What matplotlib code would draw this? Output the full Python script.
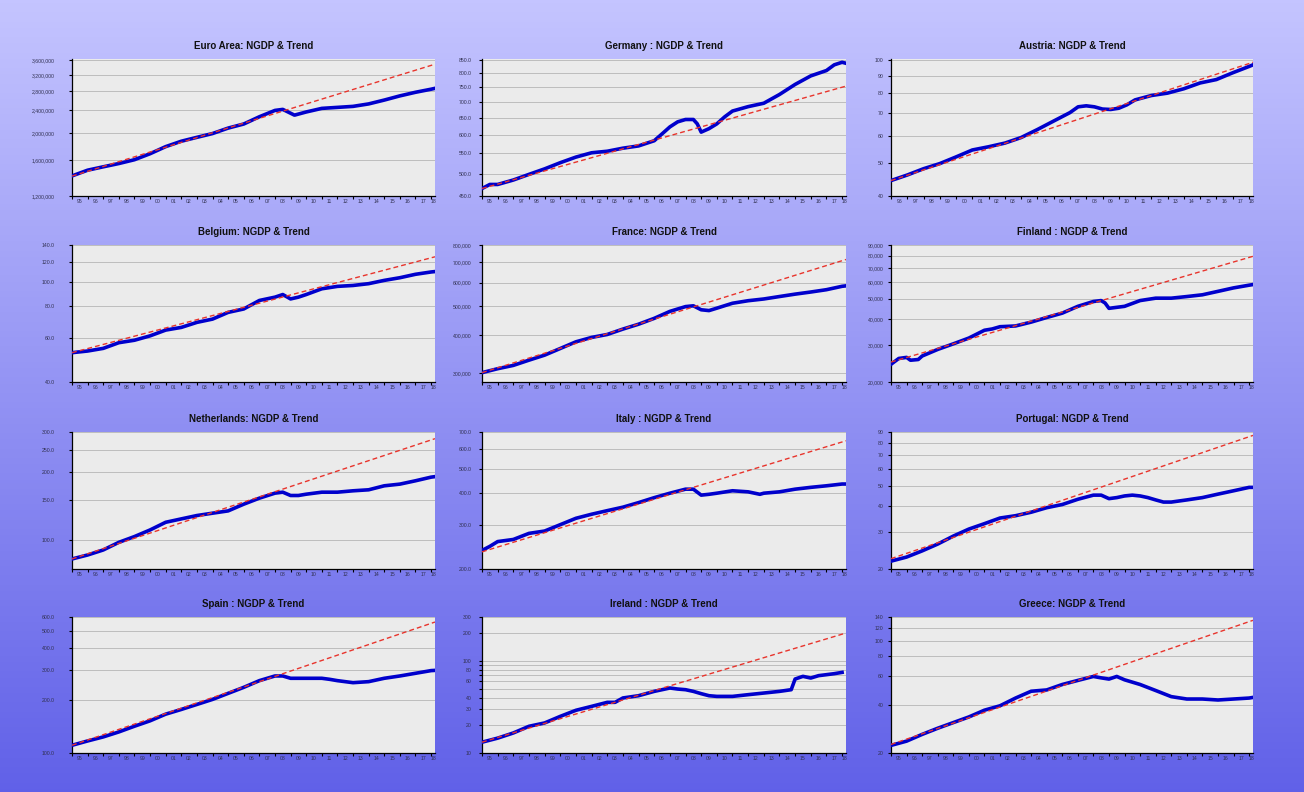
import numpy as np
import matplotlib.pyplot as plt
from matplotlib.ticker import NullLocator

plt.rcParams['font.family'] = ['Liberation Sans', 'DejaVu Sans']

# ---- data (quarterly NGDP, log-linear trend end points) ----
ea_t = [1995, 1996, 1997, 1998, 1999, 2000, 2001, 2002, 2003, 2004, 2005, 2006, 2007,
        2008, 2008.5, 2009.25, 2010, 2011, 2012, 2013, 2014, 2015, 2016, 2017, 2018, 2018.25]
ea_v = [1.412e6, 1.479e6, 1.52e6, 1.561e6, 1.61e6, 1.69e6, 1.79e6, 1.87e6, 1.93e6, 1.99e6,
        2.08e6, 2.15e6, 2.28e6, 2.40e6, 2.42e6, 2.31e6, 2.37e6, 2.44e6, 2.46e6, 2.48e6,
        2.53e6, 2.61e6, 2.70e6, 2.78e6, 2.85e6, 2.87e6]
ea_trend = [1.41e6, 3.49e6]

de_t = [1995, 1995.5, 1996, 1997, 1998, 1999, 2000, 2001, 2002, 2003, 2004, 2005, 2006,
        2006.5, 2007, 2007.5, 2008, 2008.5, 2008.75, 2009, 2009.5, 2010, 2010.5, 2011, 2012,
        2013, 2014, 2015, 2016, 2017, 2017.5, 2018, 2018.25]
de_v = [466, 475, 475, 485, 498, 511, 526, 540, 551, 555, 563, 569, 583, 602, 622, 637, 644,
        644, 631, 607, 617, 631, 652, 670, 684, 695, 724, 759, 790, 810, 832, 842, 838]
de_trend = [466, 753]

at_t = [1996, 1997, 1998, 1999, 2000, 2001, 2002, 2003, 2004, 2005, 2006, 2007, 2007.5, 2008,
        2008.5, 2009, 2009.5, 2010, 2010.5, 2011, 2012, 2013, 2014, 2015, 2016, 2017, 2018, 2018.25]
at_v = [44.4, 46.1, 48.1, 49.8, 52.1, 54.6, 55.8, 57.2, 59.4, 62.7, 66.4, 70.3, 73.1, 73.6,
        73.1, 72.0, 71.8, 72.4, 74.1, 76.6, 78.9, 80.2, 82.6, 85.9, 87.9, 92.0, 96.0, 97.1]
at_trend = [44.4, 98.8]

be_t = [1995, 1996, 1997, 1998, 1999, 2000, 2001, 2002, 2003, 2004, 2005, 2006, 2007, 2008,
        2008.5, 2009, 2009.5, 2010, 2011, 2012, 2013, 2014, 2015, 2016, 2017, 2018, 2018.25]
be_v = [52.3, 53.1, 54.4, 57.3, 58.6, 61.0, 64.3, 65.9, 69.0, 71.1, 75.6, 78.0, 84.3, 86.9,
        89.0, 85.5, 86.9, 89.0, 93.8, 95.9, 96.7, 98.3, 101.3, 103.8, 107.1, 109.4, 109.8]
be_trend = [52.3, 125.7]

fr_t = [1995, 1996, 1997, 1998, 1999, 2000, 2001, 2002, 2003, 2004, 2005, 2006, 2007, 2008,
        2008.5, 2009, 2009.5, 2010, 2011, 2012, 2013, 2014, 2015, 2016, 2017, 2018, 2018.25]
fr_v = [300800, 310000, 318000, 331000, 344000, 362000, 381000, 394000, 403000, 420000,
        436000, 456000, 481000, 499000, 502000, 487000, 484000, 493000, 512000, 522000,
        529000, 539000, 549000, 558000, 568000, 583000, 585000]
fr_trend = [300800, 716000]

fi_t = [1995, 1995.5, 1996, 1996.25, 1996.75, 1997, 1998, 1999, 2000, 2001, 2001.5, 2002,
        2003, 2004, 2005, 2006, 2007, 2008, 2008.5, 2008.75, 2009, 2009.5, 2010, 2011, 2012,
        2013, 2014, 2015, 2016, 2017, 2018, 2018.25]
fi_v = [24300, 25900, 26200, 25400, 25600, 26600, 28600, 30400, 32400, 35300, 35800, 36700,
        37000, 38600, 40600, 42600, 45900, 48400, 48900, 47600, 44900, 45400, 45900, 48900,
        50200, 50200, 51100, 52100, 54100, 56200, 57900, 58300]
fi_trend = [24900, 79500]

nl_t = [1995, 1996, 1997, 1998, 1999, 2000, 2001, 2002, 2003, 2004, 2005, 2006, 2007, 2008,
        2008.5, 2009, 2009.5, 2010, 2011, 2012, 2013, 2014, 2015, 2016, 2017, 2018, 2018.25]
nl_v = [82.4, 85.8, 90.3, 97.6, 103.5, 110.7, 119.7, 123.9, 128.2, 131.3, 134.4, 143.9, 153.0,
        161.0, 162.6, 157.2, 157.2, 159.3, 162.6, 162.6, 164.9, 166.6, 173.5, 176.5, 182.6,
        189.5, 190.5]
nl_trend = [82.4, 280.3]

it_t = [1995, 1995.5, 1996, 1997, 1998, 1999, 2000, 2001, 2002, 2003, 2004, 2005, 2006, 2007,
        2008, 2008.5, 2009, 2009.5, 2010, 2011, 2012, 2012.75, 2013, 2014, 2015, 2016, 2017,
        2018, 2018.25]
it_v = [237, 246, 257, 262, 277, 283, 300, 318, 330, 341, 352, 367, 384, 400, 415, 415, 393,
        396, 400, 409, 405, 396, 400, 405, 415, 422, 428, 435, 435]
it_trend = [234, 646]

pt_t = [1995, 1996, 1997, 1998, 1999, 2000, 2001, 2002, 2003, 2004, 2005, 2006, 2007, 2008,
        2008.5, 2009, 2009.5, 2010, 2010.5, 2011, 2011.5, 2012, 2012.5, 2013, 2014, 2015, 2016,
        2017, 2018, 2018.25]
pt_v = [21.8, 22.8, 24.4, 26.3, 28.7, 31.0, 32.9, 35.0, 35.9, 37.3, 39.2, 40.6, 43.0, 45.0,
        45.0, 43.3, 43.8, 44.6, 45.0, 44.6, 43.8, 42.7, 41.7, 41.7, 42.7, 43.8, 45.5, 47.2,
        49.0, 49.0]
pt_trend = [22.4, 86.7]

es_t = [1995, 1996, 1997, 1998, 1999, 2000, 2001, 2002, 2003, 2004, 2005, 2006, 2007, 2008,
        2008.5, 2009, 2010, 2011, 2011.5, 2012, 2013, 2014, 2015, 2016, 2017, 2018, 2018.25]
es_v = [110.7, 117.2, 123.6, 132.0, 142.3, 152.8, 166.8, 177.5, 189.6, 202.6, 219.4, 237.5,
        259.4, 275.9, 275.9, 267.6, 267.6, 267.6, 264.0, 259.4, 252.6, 256.0, 267.6, 275.9,
        285.8, 296.1, 297.0]
es_trend = [110.7, 561.5]

ie_t = [1995, 1996, 1997, 1998, 1999, 2000, 2001, 2002, 2003, 2003.5, 2004, 2005, 2006, 2007,
        2007.5, 2008, 2008.5, 2009, 2009.5, 2010, 2011, 2012, 2013, 2014, 2014.75, 2015,
        2015.5, 2016, 2016.5, 2017, 2017.5, 2018]
ie_v = [13.1, 14.5, 16.5, 19.5, 21.2, 25.0, 29.1, 32.1, 35.5, 35.5, 39.6, 41.9, 46.7, 50.8,
        49.5, 48.7, 46.7, 44.1, 41.9, 41.2, 41.2, 43.0, 44.8, 46.7, 48.7, 63.6, 68.0, 65.2,
        69.2, 70.9, 72.7, 75.1]
ie_trend = [13.1, 201.0]

gr_t = [1995, 1996, 1997, 1998, 1999, 2000, 2001, 2002, 2003, 2004, 2005, 2006, 2007, 2008,
        2008.5, 2009, 2009.5, 2010, 2011, 2012, 2013, 2014, 2015, 2016, 2017, 2018, 2018.25]
gr_v = [22.3, 23.7, 26.1, 28.5, 30.9, 33.5, 36.9, 39.3, 43.9, 48.4, 49.3, 53.3, 56.5, 59.8,
        58.6, 57.6, 59.8, 57.0, 53.3, 48.9, 44.8, 43.3, 43.3, 42.7, 43.3, 43.9, 44.3]
gr_trend = [22.6, 133.5]

# y grid lines and labelled ticks of each panel
ea_yt = [1.2e6, 1.6e6, 2.0e6, 2.4e6, 2.8e6, 3.2e6, 3.6e6]
de_yt = [450, 500, 550, 600, 650, 700, 750, 800, 850]
at_yt = [40, 50, 60, 70, 80, 90, 100]
be_yt = [40, 60, 80, 100, 120, 140]
fr_yt = [300000, 400000, 500000, 600000, 700000, 800000]
fi_yt = [20000, 30000, 40000, 50000, 60000, 70000, 80000, 90000]
nl_yt = [100, 150, 200, 250, 300]
it_yt = [200, 300, 400, 500, 600, 700]
pt_yt = [20, 30, 40, 50, 60, 70, 80, 90]
es_yt = [100, 200, 300, 400, 500, 600]
ie_yt = [10, 20, 30, 40, 50, 60, 70, 80, 90, 100, 200, 300]
gr_yt = [20, 40, 60, 80, 100, 120, 140]
ie_labelled = [10, 20, 30, 40, 60, 80, 100, 200, 300]

# ---- figure ----
W, H = 1304, 792
fig = plt.figure(figsize=(W / 100, H / 100), dpi=100)

# blue gradient background
bg = fig.add_axes([0, 0, 1, 1], zorder=-10)
g = np.linspace(0, 1, 256)[:, None, None]
c_top = np.array([0.77, 0.77, 1.00])
c_bot = np.array([0.38, 0.38, 0.91])
bg.imshow(c_top + (c_bot - c_top) * g, aspect='auto', extent=[0, 1, 0, 1])
bg.set_xlim(0, 1)
bg.set_ylim(0, 1)
bg.axis('off')


def fmt_comma(v):
    return f"{v:,.0f}"


def fmt_dec(v):
    return f"{v:.1f}"


def fmt_int(v):
    return f"{v:.0f}"


panels = [
    ("Euro Area: NGDP & Trend", ea_t, ea_v, ea_trend, ea_yt, fmt_comma, (1.2e6, 3.64e6)),
    ("Germany : NGDP & Trend", de_t, de_v, de_trend, de_yt, fmt_dec, (450, 855)),
    ("Austria: NGDP & Trend", at_t, at_v, at_trend, at_yt, fmt_int, (40, 101)),
    ("Belgium: NGDP & Trend", be_t, be_v, be_trend, be_yt, fmt_dec, (40, 140)),
    ("France: NGDP & Trend", fr_t, fr_v, fr_trend, fr_yt, fmt_comma, (280000, 800000)),
    ("Finland : NGDP & Trend", fi_t, fi_v, fi_trend, fi_yt, fmt_comma, (20000, 90000)),
    ("Netherlands: NGDP & Trend", nl_t, nl_v, nl_trend, nl_yt, fmt_dec, (74.4, 300)),
    ("Italy : NGDP & Trend", it_t, it_v, it_trend, it_yt, fmt_dec, (200, 700)),
    ("Portugal: NGDP & Trend", pt_t, pt_v, pt_trend, pt_yt, fmt_int, (20, 90)),
    ("Spain : NGDP & Trend", es_t, es_v, es_trend, es_yt, fmt_dec, (100, 600)),
    ("Ireland : NGDP & Trend", ie_t, ie_v, ie_trend, ie_yt, fmt_int, (10, 300)),
    ("Greece: NGDP & Trend", gr_t, gr_v, gr_trend, gr_yt, fmt_int, (20, 140)),
]

col_l = [72, 482, 891]
col_r = [435, 846, 1253]
col_pad = [10, 5, 3]
row_t = [59, 245, 432, 617]
row_b = [196, 382, 569, 753]
t_end = 2018.25

for i, (name, t, v, trend, yt, fmt, ylim) in enumerate(panels):
    r, c = divmod(i, 3)
    l, rr, tp, bt = col_l[c], col_r[c], row_t[r], row_b[r]
    ax = fig.add_axes([l / W, 1 - bt / H, (rr - l) / W, (bt - tp) / H])
    ax.set_facecolor('#EBEBEB')
    ax.set_yscale('log')

    ax.plot(t, v, color='#0000CC', lw=2.6, zorder=3)
    ax.plot([t[0], t_end], trend, color='#E8342C', lw=1.0, dashes=(3.5, 2.2), zorder=4)

    ax.set_xlim(t[0], t_end)
    ax.set_ylim(*ylim)

    # y axis
    ax.yaxis.set_minor_locator(NullLocator())
    if name.startswith("Ireland"):
        labels = [fmt(y) if y in ie_labelled else '' for y in yt]
    else:
        labels = [fmt(y) for y in yt]
    ax.set_yticks(yt, labels=labels)
    ax.grid(axis='y', color='#BDBDBD', lw=0.7)
    ax.set_axisbelow(True)

    # x axis: tick marks at year starts, labels in the middle of each year
    start = int(t[0])
    marks = list(range(start, 2019))
    ax.set_xticks(marks, labels=[''] * len(marks))
    mids = [y + 0.5 for y in range(start, 2018)] + [2018.14]
    ax.set_xticks(mids, labels=[f"{y % 100:02d}" for y in range(start, 2019)], minor=True)

    ax.tick_params(axis='both', which='major', length=2.5, width=0.8, color='black',
                   labelsize=3.7, labelcolor='#303050', pad=1.5)
    ax.tick_params(axis='y', which='major', pad=col_pad[c])
    ax.tick_params(axis='x', which='minor', length=0, labelsize=3.7,
                   labelcolor='#303050', pad=2.5)

    for s in ['top', 'right']:
        ax.spines[s].set_visible(False)
    for s in ['left', 'bottom']:
        ax.spines[s].set_linewidth(0.9)
        ax.spines[s].set_color('black')

    ax.set_title(name, fontsize=7, fontweight='bold', color='#111111', pad=7)

fig.savefig("out.png", dpi=100)
